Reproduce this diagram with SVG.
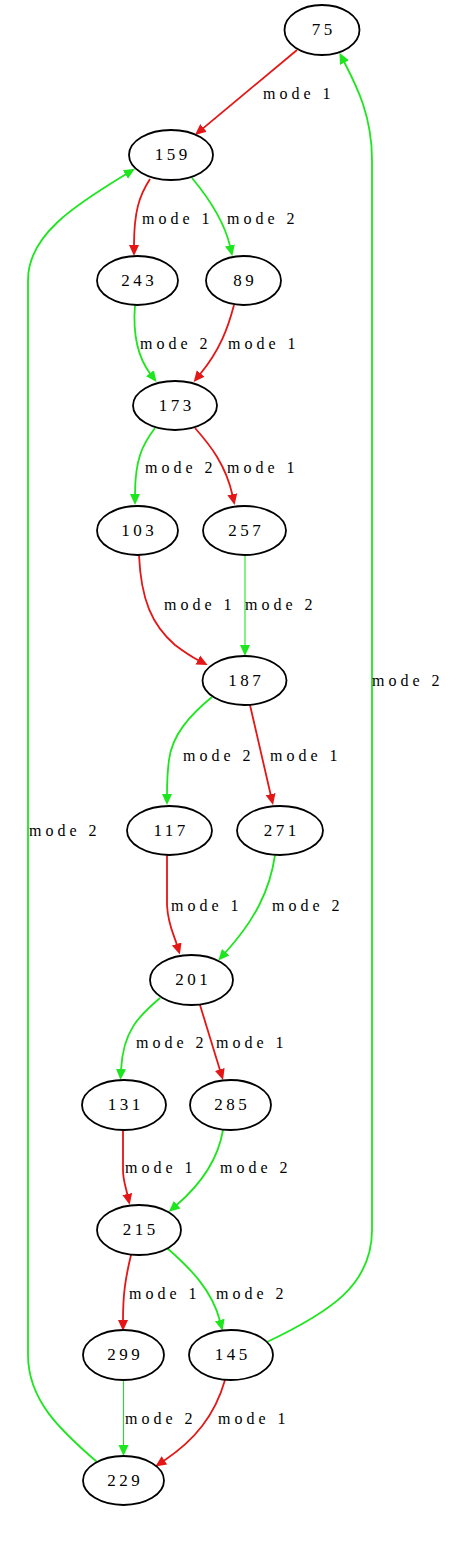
<svg xmlns="http://www.w3.org/2000/svg" width="474" height="1551" viewBox="0 0 474 1551">
<style>
.n ellipse{fill:#fff;stroke:#000;stroke-width:1.8}
.n text{font-family:"Liberation Serif","Times New Roman",serif;font-size:17px;letter-spacing:3.5px;text-anchor:middle;fill:#000}
.e path{fill:none;stroke-width:1.8}
.r{stroke:#e51616}
.g{stroke:#1ee61e}
.t{stroke-width:1.1!important}
.lbl{font-family:"Liberation Serif","Times New Roman",serif;font-size:16px;letter-spacing:4px;fill:#000}
</style>
<defs>
<marker id="ar" viewBox="0 -6 12 12" refX="1" refY="0" markerWidth="12" markerHeight="12" markerUnits="userSpaceOnUse" orient="auto"><path d="M0,-5L11,0L0,5z" fill="#e51616"/></marker>
<marker id="ag" viewBox="0 -6 12 12" refX="1" refY="0" markerWidth="12" markerHeight="12" markerUnits="userSpaceOnUse" orient="auto"><path d="M0,-5L11,0L0,5z" fill="#1ee61e"/></marker>
</defs>
<rect width="474" height="1551" fill="#fff"/>
<g id="edges" class="e">
<path class="r" marker-end="url(#ar)" d="M297,50 L202.7,128.6"/>
<path class="r" marker-end="url(#ar)" d="M150,179 C139,196 134,212 134,246"/>
<path class="g" marker-end="url(#ag)" d="M192,178 C207,196 224,220 230.1,246.4"/>
<path class="g" marker-end="url(#ag)" d="M135,305 C133,330 136,355 150.5,374.1"/>
<path class="r" marker-end="url(#ar)" d="M234,305 C228,328 220,350 200,374.3"/>
<path class="g" marker-end="url(#ag)" d="M155,428 C142,445 135,460 135,495"/>
<path class="r" marker-end="url(#ar)" d="M195,428 C210,445 226,465 232.5,495.3"/>
<path class="r" marker-end="url(#ar)" d="M139,555 C141,600 152,625 175,645 C183,651 190,656 198.7,660.5"/>
<path class="g t" marker-end="url(#ag)" d="M245,555 L245,646"/>
<path class="g" marker-end="url(#ag)" d="M212,697 C190,715 172,735 169,760 C167,775 167,785 167,795"/>
<path class="r" marker-end="url(#ar)" d="M250,705 L270.8,795.2"/>
<path class="r" marker-end="url(#ar)" d="M167,855 L167,905 C168,925 174,935 177,945"/>
<path class="g" marker-end="url(#ag)" d="M275,855 C270,890 255,920 225,953"/>
<path class="g" marker-end="url(#ag)" d="M160,998 C140,1015 123,1030 121,1070"/>
<path class="r" marker-end="url(#ar)" d="M200,1005 L220.1,1070.4"/>
<path class="r" marker-end="url(#ar)" d="M123,1130 L123,1170 C123,1180 126,1188 127.5,1195"/>
<path class="g" marker-end="url(#ag)" d="M223,1130 C218,1160 200,1185 176.4,1205.3"/>
<path class="r" marker-end="url(#ar)" d="M131,1255 C125,1280 123,1295 123,1321"/>
<path class="g" marker-end="url(#ag)" d="M167,1248 C190,1268 212,1290 220,1321"/>
<path class="g t" marker-end="url(#ag)" d="M123.5,1380 L123.5,1446"/>
<path class="r" marker-end="url(#ar)" d="M225,1380 C215,1415 195,1440 163.6,1460.9"/>
<path class="g" marker-end="url(#ag)" d="M267,1342 C330,1312 372,1285 372,1230 L372,160 C372,115 356,85 344,61.7"/>
<path class="g" marker-end="url(#ag)" d="M97,1462 C60,1430 28,1400 28,1355 L28,280 C28,235 75,205 126.3,174"/>
</g>
<g id="labels" class="lbl">
<text x="263" y="99">mode 1</text>
<text x="142" y="224">mode 1</text>
<text x="227" y="224">mode 2</text>
<text x="140" y="349">mode 2</text>
<text x="228" y="349">mode 1</text>
<text x="145" y="473">mode 2</text>
<text x="227" y="473">mode 1</text>
<text x="164" y="610">mode 1</text>
<text x="245" y="610">mode 2</text>
<text x="372" y="686">mode 2</text>
<text x="183" y="761">mode 2</text>
<text x="270" y="761">mode 1</text>
<text x="29" y="836">mode 2</text>
<text x="171" y="911">mode 1</text>
<text x="272" y="911">mode 2</text>
<text x="136" y="1048">mode 2</text>
<text x="216" y="1048">mode 1</text>
<text x="125" y="1173">mode 1</text>
<text x="220" y="1173">mode 2</text>
<text x="129" y="1299">mode 1</text>
<text x="216" y="1299">mode 2</text>
<text x="125" y="1424">mode 2</text>
<text x="218" y="1424">mode 1</text>
</g>
<g id="n75" class="n"><ellipse cx="322" cy="30" rx="37.5" ry="25"/><text x="323.7" y="35">75</text></g>
<g id="n159" class="n"><ellipse cx="171" cy="155" rx="42" ry="25"/><text x="172.7" y="160">159</text></g>
<g id="n243" class="n"><ellipse cx="137.5" cy="280.5" rx="40.5" ry="24.5"/><text x="139.2" y="285.5">243</text></g>
<g id="n89" class="n"><ellipse cx="243.5" cy="280.5" rx="37.5" ry="24.5"/><text x="245.2" y="285.5">89</text></g>
<g id="n173" class="n"><ellipse cx="175" cy="405.5" rx="42" ry="24.5"/><text x="176.7" y="410.5">173</text></g>
<g id="n103" class="n"><ellipse cx="137.5" cy="530.5" rx="40.5" ry="24.5"/><text x="139.2" y="535.5">103</text></g>
<g id="n257" class="n"><ellipse cx="244.5" cy="530.5" rx="41.5" ry="24.5"/><text x="246.2" y="535.5">257</text></g>
<g id="n187" class="n"><ellipse cx="244.5" cy="680.5" rx="42" ry="24.5"/><text x="246.2" y="685.5">187</text></g>
<g id="n117" class="n"><ellipse cx="169.5" cy="830.5" rx="42.5" ry="24.5"/><text x="171.2" y="835.5">117</text></g>
<g id="n271" class="n"><ellipse cx="280" cy="830.5" rx="43" ry="24.5"/><text x="281.7" y="835.5">271</text></g>
<g id="n201" class="n"><ellipse cx="191.5" cy="980" rx="41.5" ry="25"/><text x="193.2" y="985">201</text></g>
<g id="n131" class="n"><ellipse cx="124" cy="1105" rx="42" ry="25"/><text x="125.7" y="1110">131</text></g>
<g id="n285" class="n"><ellipse cx="230.5" cy="1105" rx="40.5" ry="25"/><text x="232.2" y="1110">285</text></g>
<g id="n215" class="n"><ellipse cx="139" cy="1230" rx="42" ry="25"/><text x="140.7" y="1235">215</text></g>
<g id="n299" class="n"><ellipse cx="123.5" cy="1355" rx="40.5" ry="25"/><text x="125.2" y="1360">299</text></g>
<g id="n145" class="n"><ellipse cx="231" cy="1355" rx="42" ry="25"/><text x="232.7" y="1360">145</text></g>
<g id="n229" class="n"><ellipse cx="123.5" cy="1480.5" rx="40.5" ry="24.5"/><text x="125.2" y="1485.5">229</text></g>
</svg>
